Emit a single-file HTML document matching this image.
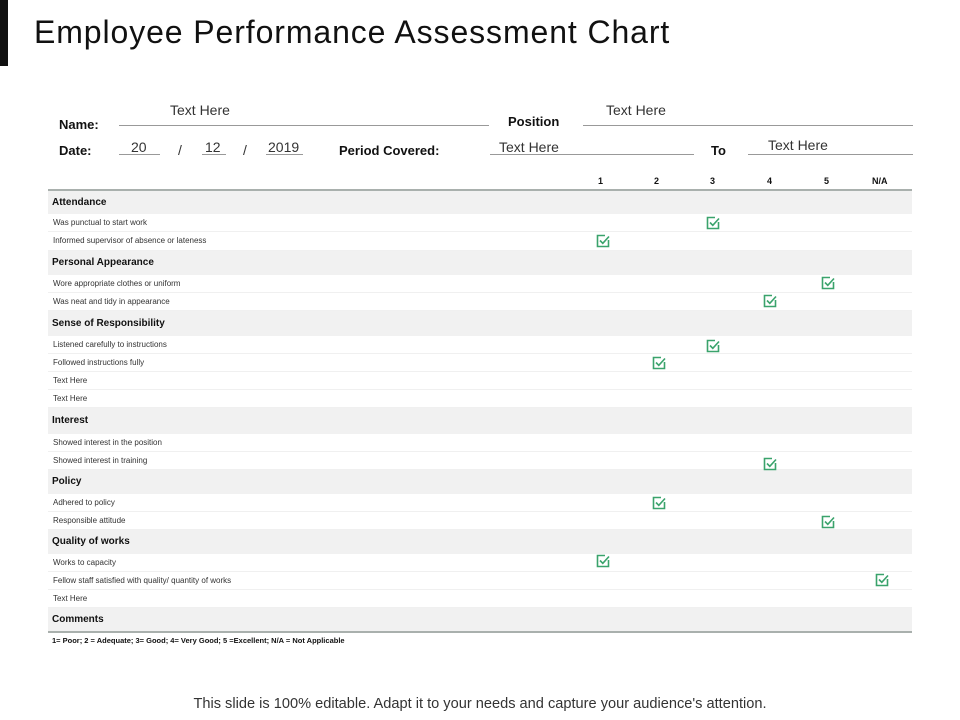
<!DOCTYPE html>
<html><head><meta charset="utf-8"><style>
body{margin:0;width:960px;height:720px;background:#fff;position:relative;overflow:hidden;font-family:"Liberation Sans",sans-serif;color:#111}
.a{position:absolute;white-space:nowrap}
.b{font-weight:bold}
.cat{position:absolute;left:48px;width:864px;background:#f1f1f1;font-weight:bold;font-size:10px;box-sizing:border-box;padding-left:4px}
.it{position:absolute;left:48px;width:864px;font-size:8px;color:#333;box-sizing:border-box;padding-left:5px;border-bottom:1px solid #f0f0f0}
.ln{position:absolute;height:1px;background:#999}
.ck{position:absolute;width:14px;height:14px}
</style></head><body>
<div class="a" style="left:0;top:0;width:8px;height:66px;background:#111"></div>
<div class="a" style="left:34px;top:14px;font-size:32px;letter-spacing:0.9px;color:#111">Employee Performance Assessment Chart</div>

<div class="a b" style="left:59px;top:117px;font-size:13px">Name:</div>
<div class="a" style="left:170px;top:102px;font-size:14px;color:#333">Text Here</div>
<div class="ln" style="left:119px;top:125px;width:370px"></div>
<div class="a b" style="left:508px;top:114px;font-size:13px">Position</div>
<div class="a" style="left:606px;top:102px;font-size:14px;color:#333">Text Here</div>
<div class="ln" style="left:583px;top:125px;width:330px"></div>

<div class="a b" style="left:59px;top:143px;font-size:13px">Date:</div>
<div class="a" style="left:131px;top:139px;font-size:14px;color:#333">20</div>
<div class="ln" style="left:119px;top:154px;width:41px"></div>
<div class="a" style="left:178px;top:142px;font-size:14px;color:#333">/</div>
<div class="a" style="left:205px;top:139px;font-size:14px;color:#333">12</div>
<div class="ln" style="left:202px;top:154px;width:24px"></div>
<div class="a" style="left:243px;top:142px;font-size:14px;color:#333">/</div>
<div class="a" style="left:268px;top:139px;font-size:14px;color:#333">2019</div>
<div class="ln" style="left:266px;top:154px;width:37px"></div>
<div class="a b" style="left:339px;top:143px;font-size:13px">Period Covered:</div>
<div class="a" style="left:499px;top:139px;font-size:14px;color:#333">Text Here</div>
<div class="ln" style="left:490px;top:154px;width:204px"></div>
<div class="a b" style="left:711px;top:143px;font-size:13px">To</div>
<div class="a" style="left:768px;top:137px;font-size:14px;color:#333">Text Here</div>
<div class="ln" style="left:748px;top:154px;width:165px"></div>

<div class="a b" style="left:598px;top:176px;font-size:9px">1</div>
<div class="a b" style="left:654px;top:176px;font-size:9px">2</div>
<div class="a b" style="left:710px;top:176px;font-size:9px">3</div>
<div class="a b" style="left:767px;top:176px;font-size:9px">4</div>
<div class="a b" style="left:824px;top:176px;font-size:9px">5</div>
<div class="a b" style="left:872px;top:176px;font-size:9px">N/A</div>
<div class="ln" style="left:48px;top:189px;width:864px;height:2px;background:#a9b0ad"></div>

<div class="cat" style="top:191px;height:23px;line-height:23px">Attendance</div>
<div class="it" style="top:214px;height:18px;line-height:17px">Was punctual to start work</div>
<div class="it" style="top:232px;height:19px;line-height:17px">Informed supervisor of absence or lateness</div>
<div class="cat" style="top:251px;height:24px;line-height:24px">Personal Appearance</div>
<div class="it" style="top:275px;height:18px;line-height:17px">Wore appropriate clothes or uniform</div>
<div class="it" style="top:293px;height:18px;line-height:17px">Was neat and tidy in appearance</div>
<div class="cat" style="top:311px;height:25px;line-height:25px">Sense of Responsibility</div>
<div class="it" style="top:336px;height:18px;line-height:17px">Listened carefully to instructions</div>
<div class="it" style="top:354px;height:18px;line-height:17px">Followed instructions fully</div>
<div class="it" style="top:372px;height:18px;line-height:17px">Text Here</div>
<div class="it" style="top:390px;height:18px;line-height:17px">Text Here</div>
<div class="cat" style="top:408px;height:26px;line-height:26px">Interest</div>
<div class="it" style="top:434px;height:18px;line-height:17px">Showed interest in the position</div>
<div class="it" style="top:452px;height:18px;line-height:17px">Showed interest in training</div>
<div class="cat" style="top:470px;height:24px;line-height:24px">Policy</div>
<div class="it" style="top:494px;height:18px;line-height:17px">Adhered to policy</div>
<div class="it" style="top:512px;height:18px;line-height:17px">Responsible attitude</div>
<div class="cat" style="top:530px;height:24px;line-height:24px">Quality of works</div>
<div class="it" style="top:554px;height:18px;line-height:17px">Works to capacity</div>
<div class="it" style="top:572px;height:18px;line-height:17px">Fellow staff satisfied with quality/ quantity of works</div>
<div class="it" style="top:590px;height:18px;line-height:17px">Text Here</div>
<div class="cat" style="top:608px;height:23px;line-height:23px">Comments</div>
<div class="ln" style="left:48px;top:631px;width:864px;height:2px;background:#a9b0ad"></div>
<div class="a b" style="left:52px;top:636px;font-size:7.5px">1= Poor; 2 = Adequate; 3= Good; 4= Very Good; 5 =Excellent; N/A = Not Applicable</div>

<svg width="0" height="0" style="position:absolute"><defs><symbol id="c" viewBox="0 0 14 14"><path d="M9 1.5H1.5V12.5H12.5V6" fill="none" stroke="#3aa36c" stroke-width="1.6"/><path d="M4 6.5L6.8 9.3L13 2.5" fill="none" stroke="#3aa36c" stroke-width="1.6"/></symbol></defs></svg>
<svg class="ck" style="left:706px;top:216px"><use href="#c"/></svg>
<svg class="ck" style="left:596px;top:234px"><use href="#c"/></svg>
<svg class="ck" style="left:821px;top:276px"><use href="#c"/></svg>
<svg class="ck" style="left:763px;top:294px"><use href="#c"/></svg>
<svg class="ck" style="left:706px;top:339px"><use href="#c"/></svg>
<svg class="ck" style="left:652px;top:356px"><use href="#c"/></svg>
<svg class="ck" style="left:763px;top:457px"><use href="#c"/></svg>
<svg class="ck" style="left:652px;top:496px"><use href="#c"/></svg>
<svg class="ck" style="left:821px;top:515px"><use href="#c"/></svg>
<svg class="ck" style="left:596px;top:554px"><use href="#c"/></svg>
<svg class="ck" style="left:875px;top:573px"><use href="#c"/></svg>

<div class="a" style="left:0;width:960px;text-align:center;top:696px;font-size:14.6px;color:#333">This slide is 100% editable. Adapt it to your needs and capture your audience's attention.</div>
</body></html>
